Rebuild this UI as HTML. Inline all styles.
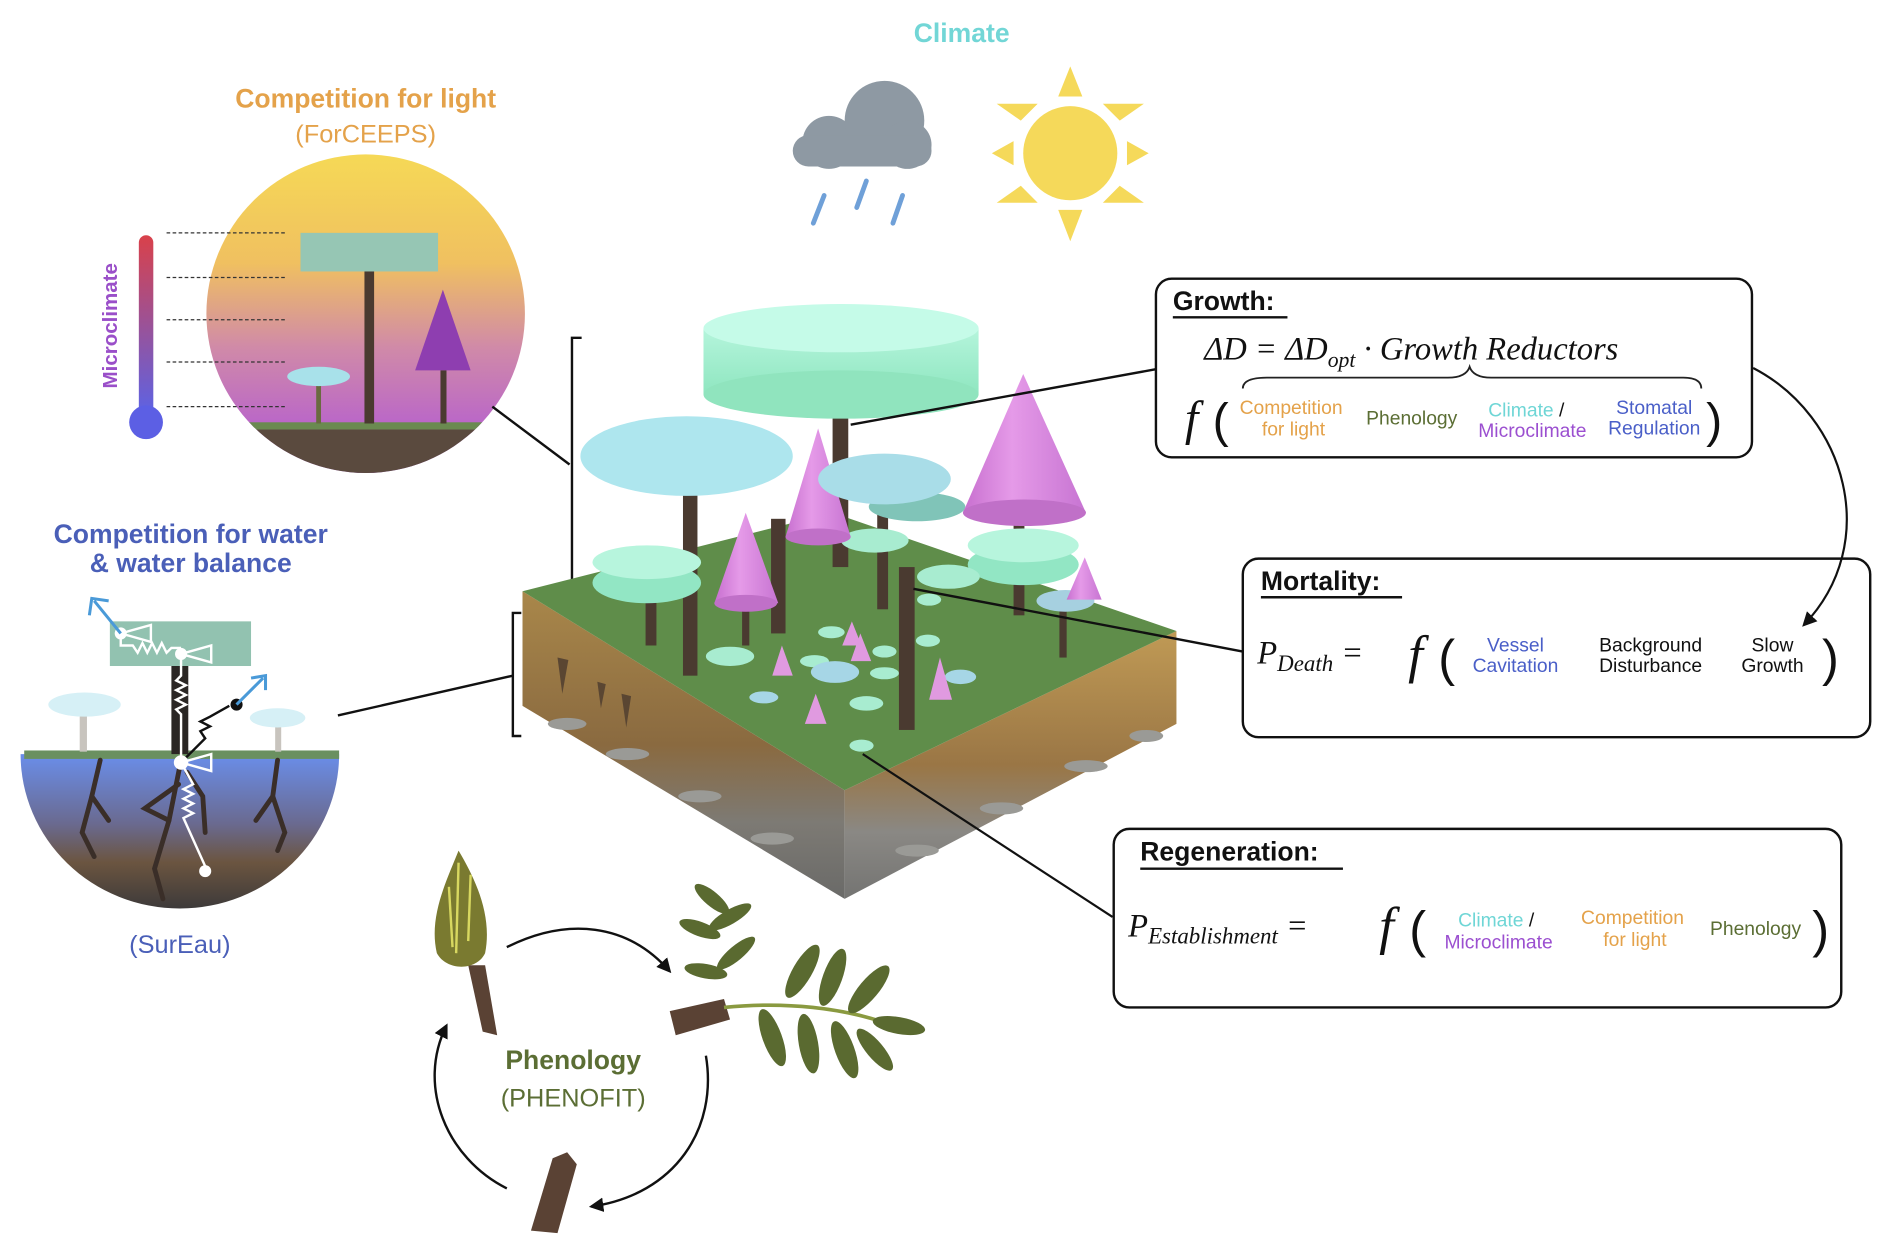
<!DOCTYPE html>
<html><head><meta charset="utf-8"><style>
html,body{margin:0;padding:0;background:#fff;}
svg{display:block;}
.s{font-family:"Liberation Sans","DejaVu Sans",sans-serif;}
.m{font-family:"Liberation Serif","DejaVu Serif",serif;font-style:italic;}
</style></head><body>
<svg width="1892" height="1256" viewBox="0 0 1568 1041" xmlns="http://www.w3.org/2000/svg">
<defs>
<linearGradient id="lg" x1="0" y1="0" x2="0" y2="1"><stop offset="0" stop-color="#f6db55"/><stop offset="0.35" stop-color="#f0c060"/><stop offset="0.6" stop-color="#d08aa8"/><stop offset="1" stop-color="#a94ce0"/></linearGradient>
<linearGradient id="th" x1="0" y1="0" x2="0" y2="1"><stop offset="0" stop-color="#d9414a"/><stop offset="1" stop-color="#5b63e6"/></linearGradient>
<linearGradient id="wg" x1="0" y1="0" x2="0" y2="1"><stop offset="0" stop-color="#6a8eea"/><stop offset="0.45" stop-color="#6a6a90"/><stop offset="0.7" stop-color="#6b5540"/><stop offset="1" stop-color="#3d3a3a"/></linearGradient>
<linearGradient id="soilL" x1="0" y1="0" x2="0" y2="1"><stop offset="0" stop-color="#a9874a"/><stop offset="0.5" stop-color="#8a6a40"/><stop offset="0.75" stop-color="#7d7a74"/><stop offset="1" stop-color="#6a6a68"/></linearGradient>
<linearGradient id="soilR" x1="0" y1="0" x2="0" y2="1"><stop offset="0" stop-color="#c09a55"/><stop offset="0.5" stop-color="#9a7645"/><stop offset="0.75" stop-color="#8a8884"/><stop offset="1" stop-color="#747472"/></linearGradient>
<linearGradient id="cyl" x1="0" y1="0" x2="0" y2="1"><stop offset="0" stop-color="#b5f5dc"/><stop offset="1" stop-color="#8fe6c0"/></linearGradient>
<linearGradient id="cone" x1="0" y1="0" x2="1" y2="0"><stop offset="0" stop-color="#c76fcf"/><stop offset="0.4" stop-color="#e59ae8"/><stop offset="1" stop-color="#c774d2"/></linearGradient>
<clipPath id="cc"><circle cx="303" cy="260" r="132"/></clipPath>
<marker id="ar" markerWidth="12" markerHeight="12" refX="10" refY="6" orient="auto" markerUnits="userSpaceOnUse"><path d="M0,0 L12,6 L0,12 z" fill="#111"/></marker>
</defs>

<text class="s" x="797" y="35" font-size="22" font-weight="bold" fill="#72d6d6" text-anchor="middle">Climate</text>
<g fill="#8e99a3"><circle cx="687" cy="118" r="22"/><circle cx="733" cy="100" r="33"/><circle cx="752" cy="120" r="20"/><rect x="657" y="112" width="115" height="26" rx="13"/></g>
<g stroke="#6fa0d8" stroke-width="4" stroke-linecap="round"><line x1="683" y1="162" x2="674" y2="185"/><line x1="718" y1="150" x2="710" y2="172"/><line x1="748" y1="162" x2="740" y2="185"/></g>
<g fill="#f5d95a"><circle cx="887" cy="127" r="39"/>
<polygon points="877,80 897,80 887,55"/><polygon points="877,174 897,174 887,200"/><polygon points="840,117 840,137 822,127"/><polygon points="934,117 934,137 952,127"/>
<polygon points="846,100 860,86 826,86"/><polygon points="914,86 928,100 948,86"/><polygon points="846,154 860,168 826,168"/><polygon points="928,154 914,168 948,168"/></g>

<text class="s" x="303" y="89" font-size="22" font-weight="bold" fill="#e4a24a" text-anchor="middle">Competition for light</text>
<text class="s" x="303" y="118" font-size="21" fill="#e4a24a" text-anchor="middle">(ForCEEPS)</text>
<g clip-path="url(#cc)">
<rect x="160" y="120" width="290" height="280" fill="url(#lg)"/>
<rect x="160" y="350" width="290" height="6" fill="#6a8a50"/>
<rect x="160" y="356" width="290" height="40" fill="#5a4a3e"/>
</g>
<rect x="249" y="193" width="114" height="32" fill="#96c6b4"/>
<rect x="302" y="225" width="8" height="126" fill="#4a3a30"/>
<polygon points="367,240 344,307 390,307" fill="#8e3eb0"/>
<rect x="365" y="307" width="5" height="44" fill="#4a3a30"/>
<rect x="262" y="316" width="4" height="35" fill="#6a6a40"/>
<ellipse cx="264" cy="312" rx="26" ry="8" fill="#a8e1ea"/>
<rect x="115" y="195" width="12" height="150" rx="6" fill="url(#th)"/>
<circle cx="121" cy="350" r="14" fill="#5c5fe4"/>
<g stroke="#333" stroke-width="1" stroke-dasharray="3,2"><line x1="138" y1="193" x2="238" y2="193"/><line x1="138" y1="230" x2="238" y2="230"/><line x1="138" y1="265" x2="238" y2="265"/><line x1="138" y1="300" x2="238" y2="300"/><line x1="138" y1="337" x2="238" y2="337"/></g>
<text class="s" x="97" y="270" font-size="17" font-weight="bold" fill="#9a4fc9" text-anchor="middle" transform="rotate(-90 97 270)">Microclimate</text>
<line x1="408" y1="337" x2="472" y2="385" stroke="#111" stroke-width="2"/>
<path d="M482,280 H474 V490 H482" fill="none" stroke="#111" stroke-width="2"/>

<text class="s" x="158" y="450" font-size="22" font-weight="bold" fill="#4a5fb8" text-anchor="middle">Competition for water</text>
<text class="s" x="158" y="474" font-size="22" font-weight="bold" fill="#4a5fb8" text-anchor="middle">&amp; water balance</text>
<path d="M17,625 H281 A132,128 0 0 1 17,625 Z" fill="url(#wg)"/>
<rect x="20" y="622" width="261" height="7" fill="#6a9060"/>
<rect x="66" y="590" width="6" height="33" fill="#c8c4be"/>
<ellipse cx="70" cy="584" rx="30" ry="10" fill="#d6f0f6"/>
<rect x="228" y="598" width="5" height="25" fill="#c8c4be"/>
<ellipse cx="230" cy="595" rx="23" ry="8" fill="#d6f0f6"/>
<rect x="91" y="515" width="117" height="37" fill="#92c2b0"/>
<rect x="142" y="552" width="14" height="73" fill="#2a2624"/>
<g stroke="#3a2e28" stroke-width="4" fill="none" stroke-linecap="round">
<path d="M150,630 L140,680 L128,720 L135,745"/><path d="M140,680 L120,670 L148,650"/><path d="M155,640 L168,660 L170,690"/>
<path d="M83,630 L76,660 L68,690 L78,710"/><path d="M76,660 L90,680"/>
<path d="M230,630 L226,660 L236,690 L230,705"/><path d="M226,660 L212,680"/></g>
<g stroke="#fff" stroke-width="2" fill="none"><path d="M100,525 V535 H110 l4,6 4,-8 4,8 4,-8 4,8 4,-8 4,8 4,-4 H150"/>
<path d="M150,545 V560 l-4,4 8,4 -8,4 8,4 -8,4 8,4 -8,4 4,4 V630"/>
<path d="M150,632 L160,650 l-8,4 8,4 -8,4 8,4 -8,4 8,4 -8,4 L170,718"/>
<path d="M150,632 L170,612 l-4,-6 8,-4 -8,-4 8,-4 L190,585" stroke="#111"/>
<path d="M100,525 L125,518 L125,532 Z M150,542 L175,535 L175,549 Z M150,632 L175,625 L175,639 Z"/></g>
<g fill="#fff"><circle cx="100" cy="525" r="5"/><circle cx="150" cy="542" r="5"/><circle cx="150" cy="632" r="6"/><circle cx="170" cy="722" r="5"/></g>
<circle cx="196" cy="584" r="5" fill="#111"/>
<g stroke="#4a9ad8" stroke-width="2.5" fill="none"><path d="M100,525 L78,498 M74,510 L76,496 L90,498"/><path d="M196,584 L218,562 M208,562 L220,560 L220,572"/></g>
<text class="s" x="149" y="790" font-size="21" fill="#4a5fb8" text-anchor="middle">(SurEau)</text>
<line x1="280" y1="593" x2="425" y2="560" stroke="#111" stroke-width="2"/>
<path d="M432,508 H425 V610 H432" fill="none" stroke="#111" stroke-width="2"/>

<polygon points="433,490 433,585 700,745 700,655" fill="url(#soilL)"/>
<polygon points="700,655 975,523 975,600 700,745" fill="url(#soilR)"/>
<polygon points="433,490 690,425 975,523 700,655" fill="#5f8d4a"/>
<g fill="#5a4632"><path d="M462,545 l4,30 5,-28 z"/><path d="M495,565 l3,22 4,-20 z"/><path d="M515,575 l4,28 4,-26 z"/></g>
<g fill="#9a9a96"><ellipse cx="470" cy="600" rx="16" ry="5"/><ellipse cx="520" cy="625" rx="18" ry="5"/><ellipse cx="580" cy="660" rx="18" ry="5"/><ellipse cx="640" cy="695" rx="18" ry="5"/><ellipse cx="760" cy="705" rx="18" ry="5"/><ellipse cx="830" cy="670" rx="18" ry="5"/><ellipse cx="900" cy="635" rx="18" ry="5"/><ellipse cx="950" cy="610" rx="14" ry="5"/></g>
<g fill="#a8ecd0"><ellipse cx="689" cy="524" rx="11" ry="5"/><ellipse cx="605" cy="544" rx="20" ry="8"/><ellipse cx="675" cy="548" rx="12" ry="5"/><ellipse cx="733" cy="558" rx="12" ry="5"/><ellipse cx="769" cy="531" rx="10" ry="5"/><ellipse cx="718" cy="583" rx="14" ry="6"/><ellipse cx="714" cy="618" rx="10" ry="5"/><ellipse cx="733" cy="540" rx="10" ry="5"/><ellipse cx="770" cy="497" rx="10" ry="5"/></g>
<g fill="#a6d6e6"><ellipse cx="692" cy="557" rx="20" ry="9"/><ellipse cx="633" cy="578" rx="12" ry="5"/><ellipse cx="796" cy="561" rx="13" ry="6"/></g>
<g fill="#e09ae0"><polygon points="648,535 640,560 657,560"/><polygon points="706,515 698,535 714,535"/><polygon points="713,525 705,548 722,548"/><polygon points="676,575 667,600 685,600"/><polygon points="779,545 770,580 789,580"/></g>
<g fill="#4a3a30"><rect x="690" y="325" width="13" height="145"/><rect x="566" y="400" width="12" height="160"/><rect x="639" y="430" width="12" height="95"/><rect x="745" y="470" width="13" height="135"/><rect x="727" y="415" width="9" height="90"/><rect x="840" y="425" width="9" height="85"/><rect x="535" y="480" width="9" height="55"/><rect x="878" y="495" width="6" height="50"/><rect x="615" y="495" width="6" height="40"/></g>
<ellipse cx="536" cy="483" rx="45" ry="17" fill="#92e6c4"/><ellipse cx="536" cy="466" rx="45" ry="14" fill="#b7f5dd"/>
<ellipse cx="848" cy="468" rx="46" ry="17" fill="#92e6c4"/><ellipse cx="848" cy="452" rx="46" ry="14" fill="#b7f5dd"/>
<ellipse cx="786" cy="478" rx="26" ry="10" fill="#a8ecd0"/>
<ellipse cx="883" cy="498" rx="24" ry="9" fill="#a6d0e0"/>
<polygon points="899,462 884,497 913,497" fill="url(#cone)"/>
<ellipse cx="760" cy="420" rx="40" ry="12" fill="#80c4b8"/>
<ellipse cx="725" cy="448" rx="28" ry="10" fill="#a8ecd0"/>
<rect x="583" y="272" width="228" height="55" fill="url(#cyl)"/>
<ellipse cx="697" cy="327" rx="114" ry="20" fill="#90e4be"/>
<ellipse cx="697" cy="272" rx="114" ry="20" fill="#c5fbe8"/>
<ellipse cx="569" cy="378" rx="88" ry="33" fill="#aee6ee"/>
<polygon points="618,425 592,500 645,500" fill="url(#cone)"/><ellipse cx="618" cy="500" rx="26" ry="7" fill="#c070c8"/>
<polygon points="678,355 651,445 705,445" fill="url(#cone)"/><ellipse cx="678" cy="445" rx="27" ry="7" fill="#c070c8"/>
<ellipse cx="733" cy="397" rx="55" ry="21" fill="#a9dde8"/>
<polygon points="848,310 798,425 900,425" fill="url(#cone)"/><ellipse cx="849" cy="425" rx="51" ry="11" fill="#c070c8"/>

<line x1="705" y1="352" x2="958" y2="306" stroke="#111" stroke-width="2"/>
<line x1="757" y1="488" x2="1030" y2="540" stroke="#111" stroke-width="2"/>
<line x1="715" y1="625" x2="922" y2="760" stroke="#111" stroke-width="1.8"/>

<rect x="958" y="231" width="494" height="148" rx="13" fill="#fff" stroke="#111" stroke-width="2"/>
<text class="s" x="972" y="257" font-size="22" font-weight="bold" fill="#111">Growth:</text>
<line x1="972" y1="263" x2="1067" y2="263" stroke="#111" stroke-width="2"/>
<text class="m" x="998" y="298" font-size="27" fill="#111">ΔD = ΔD<tspan font-size="18" dy="6">opt</tspan><tspan dy="-6"> · Growth Reductors</tspan></text>
<path d="M1030,322 Q1030,313 1050,313 L1200,313 Q1215,313 1218,304 Q1221,313 1236,313 L1395,313 Q1410,313 1410,322" fill="none" stroke="#222" stroke-width="1.5"/>
<text class="m" x="982" y="360" font-size="40" fill="#111">f</text>
<text class="s" x="1005" y="362" font-size="40" fill="#111" font-weight="100">(</text>
<text class="s" x="1070" y="343" font-size="16" fill="#e4a24a" text-anchor="middle">Competition</text>
<text class="s" x="1072" y="361" font-size="16" fill="#e4a24a" text-anchor="middle">for light</text>
<text class="s" x="1170" y="352" font-size="16" fill="#5b6e34" text-anchor="middle">Phenology</text>
<text class="s" x="1265" y="345" font-size="16" fill="#6fd6d6" text-anchor="middle">Climate <tspan fill="#111">/</tspan></text>
<text class="s" x="1270" y="362" font-size="16" fill="#9b4fd0" text-anchor="middle">Microclimate</text>
<text class="s" x="1371" y="343" font-size="16" fill="#4a5fc8" text-anchor="middle">Stomatal</text>
<text class="s" x="1371" y="360" font-size="16" fill="#4a5fc8" text-anchor="middle">Regulation</text>
<text class="s" x="1414" y="362" font-size="40" fill="#111" font-weight="100">)</text>

<rect x="1030" y="463" width="520" height="148" rx="13" fill="#fff" stroke="#111" stroke-width="2"/>
<text class="s" x="1045" y="489" font-size="22" font-weight="bold" fill="#111">Mortality:</text>
<line x1="1045" y1="495" x2="1162" y2="495" stroke="#111" stroke-width="2"/>
<text class="m" x="1042" y="550" font-size="27" fill="#111">P<tspan font-size="19" dy="6">Death</tspan><tspan dy="-6"> = </tspan></text>
<text class="m" x="1167" y="557" font-size="44" fill="#111">f</text>
<text class="s" x="1192" y="560" font-size="42" fill="#111" font-weight="100">(</text>
<text class="s" x="1256" y="540" font-size="16" fill="#4a5fc8" text-anchor="middle">Vessel</text>
<text class="s" x="1256" y="557" font-size="16" fill="#4a5fc8" text-anchor="middle">Cavitation</text>
<text class="s" x="1368" y="540" font-size="16" fill="#111" text-anchor="middle">Background</text>
<text class="s" x="1368" y="557" font-size="16" fill="#111" text-anchor="middle">Disturbance</text>
<text class="s" x="1469" y="540" font-size="16" fill="#111" text-anchor="middle">Slow</text>
<text class="s" x="1469" y="557" font-size="16" fill="#111" text-anchor="middle">Growth</text>
<text class="s" x="1510" y="560" font-size="42" fill="#111" font-weight="100">)</text>

<path d="M1453,305 C1530,345 1560,450 1495,518" fill="none" stroke="#111" stroke-width="1.8" marker-end="url(#ar)"/>

<rect x="923" y="687" width="603" height="148" rx="13" fill="#fff" stroke="#111" stroke-width="2"/>
<text class="s" x="945" y="713" font-size="22" font-weight="bold" fill="#111">Regeneration:</text>
<line x1="945" y1="720" x2="1113" y2="720" stroke="#111" stroke-width="2"/>
<text class="m" x="935" y="776" font-size="27" fill="#111">P<tspan font-size="19" dy="6">Establishment</tspan><tspan dy="-6"> = </tspan></text>
<text class="m" x="1143" y="782" font-size="44" fill="#111">f</text>
<text class="s" x="1168" y="785" font-size="42" fill="#111" font-weight="100">(</text>
<text class="s" x="1240" y="768" font-size="16" fill="#6fd6d6" text-anchor="middle">Climate <tspan fill="#111">/</tspan></text>
<text class="s" x="1242" y="786" font-size="16" fill="#9b4fd0" text-anchor="middle">Microclimate</text>
<text class="s" x="1353" y="766" font-size="16" fill="#e4a24a" text-anchor="middle">Competition</text>
<text class="s" x="1355" y="784" font-size="16" fill="#e4a24a" text-anchor="middle">for light</text>
<text class="s" x="1455" y="775" font-size="16" fill="#5b6e34" text-anchor="middle">Phenology</text>
<text class="s" x="1502" y="785" font-size="42" fill="#111" font-weight="100">)</text>

<text class="s" x="475" y="886" font-size="22" font-weight="bold" fill="#5b6e34" text-anchor="middle">Phenology</text>
<text class="s" x="475" y="917" font-size="21" fill="#5b6e34" text-anchor="middle">(PHENOFIT)</text>
<path d="M388,800 L400,855 L412,858 L402,800 Z" fill="#5a4234"/>
<path d="M380,705 C370,730 355,760 362,790 C370,805 395,805 402,790 C408,760 395,730 380,705 Z" fill="#7a7a30"/>
<path d="M380,715 L378,790 M390,725 L388,780 M372,735 L375,785" stroke="#d8d860" stroke-width="2" fill="none"/>
<path d="M420,785 C470,760 520,765 555,805" fill="none" stroke="#111" stroke-width="2" marker-end="url(#ar)"/>
<path d="M555,838 L600,828 L605,845 L560,858 Z" fill="#5a4234"/>
<path d="M600,835 C650,830 700,835 740,850" fill="none" stroke="#8a9a40" stroke-width="3"/>
<g fill="#5a6a30">
<ellipse cx="590" cy="745" rx="18" ry="6" transform="rotate(40 590 745)"/><ellipse cx="605" cy="760" rx="20" ry="6" transform="rotate(-30 605 760)"/><ellipse cx="580" cy="770" rx="18" ry="6" transform="rotate(20 580 770)"/><ellipse cx="610" cy="790" rx="20" ry="6" transform="rotate(-40 610 790)"/><ellipse cx="585" cy="805" rx="18" ry="6" transform="rotate(10 585 805)"/>
<ellipse cx="665" cy="805" rx="25" ry="8" transform="rotate(-60 665 805)"/><ellipse cx="690" cy="810" rx="25" ry="8" transform="rotate(-70 690 810)"/><ellipse cx="720" cy="820" rx="25" ry="8" transform="rotate(-50 720 820)"/><ellipse cx="745" cy="850" rx="22" ry="7" transform="rotate(10 745 850)"/>
<ellipse cx="640" cy="860" rx="25" ry="8" transform="rotate(70 640 860)"/><ellipse cx="670" cy="865" rx="25" ry="8" transform="rotate(80 670 865)"/><ellipse cx="700" cy="870" rx="25" ry="8" transform="rotate(70 700 870)"/><ellipse cx="725" cy="870" rx="22" ry="7" transform="rotate(50 725 870)"/></g>
<path d="M585,875 C595,935 560,990 490,1000" fill="none" stroke="#111" stroke-width="2" marker-end="url(#ar)"/>
<path d="M440,1020 L458,960 L470,955 L478,965 L462,1022 Z" fill="#5a4234"/>
<path d="M420,985 C370,960 345,900 370,850" fill="none" stroke="#111" stroke-width="2" marker-end="url(#ar)"/>
</svg>
</body></html>
